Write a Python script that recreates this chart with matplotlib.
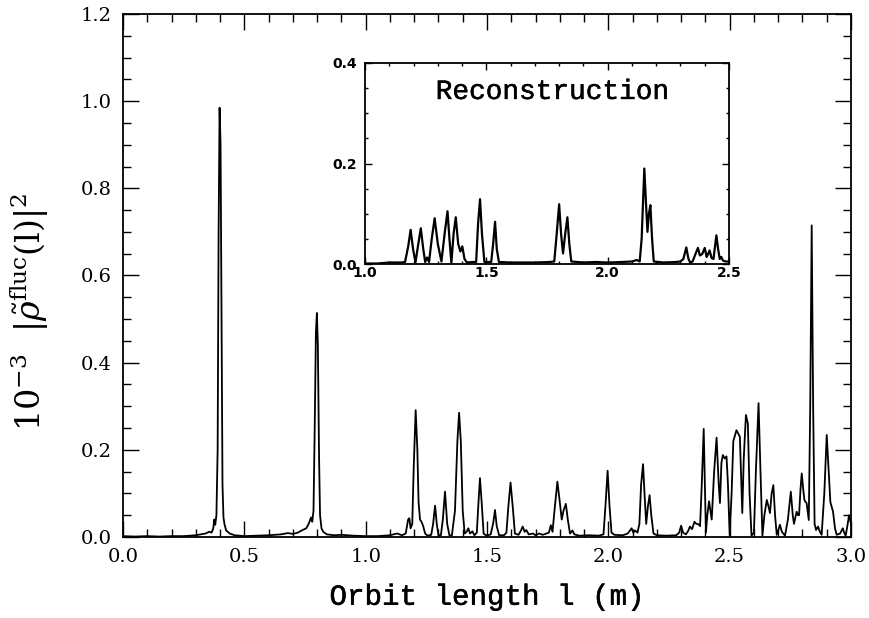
import matplotlib
matplotlib.use("Agg")
import matplotlib.pyplot as plt
import matplotlib.patheffects as pe
from matplotlib.ticker import MultipleLocator

# --- data ---
# main panel: orbit length l (m) vs 10^-3 |rho_fluc(l)|^2
orbit_l = [
    0.00, 0.05, 0.10, 0.15, 0.20, 0.25, 0.30, 0.32, 0.34, 0.355, 0.365, 0.372, 0.376, 0.380,
    0.385, 0.390, 0.394, 0.398, 0.402, 0.406, 0.410, 0.414, 0.418, 0.425, 0.44, 0.46, 0.50,
    0.55, 0.60, 0.65, 0.68, 0.70, 0.72, 0.74, 0.755, 0.765, 0.775, 0.780, 0.785, 0.790, 0.795,
    0.799, 0.803, 0.808, 0.812, 0.818, 0.825, 0.84, 0.87, 0.90, 0.95, 1.00, 1.05, 1.10, 1.13,
    1.15, 1.165, 1.175, 1.180, 1.185, 1.192, 1.198, 1.206, 1.213, 1.218, 1.224, 1.230, 1.237,
    1.245, 1.255, 1.270, 1.278, 1.286, 1.293, 1.300, 1.310, 1.318, 1.327, 1.336, 1.345, 1.355,
    1.368, 1.378, 1.385, 1.392, 1.400, 1.408, 1.416, 1.423, 1.430, 1.440, 1.448, 1.458, 1.465,
    1.471, 1.478, 1.486, 1.495, 1.505, 1.515, 1.525, 1.533, 1.540, 1.550, 1.570, 1.580, 1.588,
    1.597, 1.606, 1.615, 1.630, 1.640, 1.647, 1.655, 1.662, 1.672, 1.690, 1.700, 1.715, 1.730,
    1.745, 1.755, 1.763, 1.770, 1.778, 1.790, 1.800, 1.808, 1.815, 1.825, 1.833, 1.842, 1.852,
    1.860, 1.880, 1.920, 1.960, 1.980, 1.988, 1.997, 2.005, 2.013, 2.025, 2.060, 2.080, 2.096,
    2.103, 2.110, 2.120, 2.128, 2.135, 2.143, 2.150, 2.156, 2.163, 2.170, 2.177, 2.186, 2.200,
    2.240, 2.280, 2.292, 2.300, 2.308, 2.320, 2.330, 2.336, 2.345, 2.355, 2.363, 2.370, 2.378,
    2.385, 2.393, 2.398, 2.402, 2.408, 2.415, 2.421, 2.426, 2.436, 2.446, 2.455, 2.460, 2.466,
    2.472, 2.480, 2.487, 2.493, 2.500, 2.508, 2.515, 2.528, 2.542, 2.548, 2.552, 2.558, 2.567,
    2.575, 2.582, 2.590, 2.600, 2.608, 2.619, 2.627, 2.635, 2.643, 2.653, 2.660, 2.666, 2.673,
    2.680, 2.687, 2.694, 2.700, 2.707, 2.715, 2.728, 2.740, 2.752, 2.760, 2.765, 2.771, 2.776,
    2.782, 2.786, 2.792, 2.797, 2.803, 2.808, 2.813, 2.817, 2.821, 2.826, 2.832, 2.838, 2.844,
    2.850, 2.856, 2.864, 2.872, 2.879, 2.890, 2.900, 2.908, 2.915, 2.920, 2.926, 2.934, 2.941,
    2.955, 2.966, 2.972, 2.978, 2.985, 2.992, 3.000,
]
rho_fluc = [
    0.002, 0.001, 0.002, 0.001, 0.002, 0.002, 0.004, 0.006, 0.008, 0.012, 0.010, 0.020, 0.040, 0.028,
    0.050, 0.200, 0.700, 0.985, 0.900, 0.500, 0.120, 0.045, 0.030, 0.015, 0.008, 0.004, 0.002,
    0.003, 0.004, 0.006, 0.009, 0.007, 0.010, 0.016, 0.020, 0.030, 0.045, 0.035, 0.060, 0.250, 0.470,
    0.514, 0.440, 0.180, 0.050, 0.020, 0.012, 0.006, 0.004, 0.005, 0.003, 0.002, 0.002, 0.004, 0.008,
    0.004, 0.008, 0.040, 0.043, 0.020, 0.030, 0.160, 0.291, 0.200, 0.080, 0.040, 0.035, 0.025,
    0.008, 0.003, 0.005, 0.030, 0.072, 0.030, 0.004, 0.004, 0.040, 0.104, 0.030, 0.004, 0.003,
    0.060, 0.220, 0.285, 0.220, 0.060, 0.008, 0.012, 0.020, 0.008, 0.013, 0.004, 0.010, 0.080,
    0.135, 0.080, 0.008, 0.004, 0.004, 0.006, 0.030, 0.062, 0.025, 0.004, 0.004, 0.010, 0.070,
    0.125, 0.070, 0.008, 0.005, 0.015, 0.024, 0.012, 0.016, 0.006, 0.008, 0.004, 0.008, 0.005,
    0.008, 0.010, 0.027, 0.012, 0.060, 0.127, 0.080, 0.040, 0.060, 0.076, 0.040, 0.008, 0.015,
    0.006, 0.003, 0.004, 0.003, 0.006, 0.070, 0.152, 0.070, 0.010, 0.005, 0.004, 0.008, 0.020,
    0.010, 0.015, 0.010, 0.030, 0.120, 0.167, 0.090, 0.030, 0.070, 0.096, 0.050, 0.008, 0.004,
    0.003, 0.004, 0.010, 0.026, 0.010, 0.006, 0.015, 0.024, 0.018, 0.035, 0.030, 0.030, 0.025,
    0.120, 0.248, 0.120, 0.010, 0.050, 0.082, 0.060, 0.040, 0.150, 0.228, 0.120, 0.078, 0.170,
    0.188, 0.180, 0.185, 0.120, 0.004, 0.100, 0.220, 0.245, 0.230, 0.120, 0.055, 0.180, 0.280,
    0.260, 0.100, 0.003, 0.010, 0.150, 0.307, 0.150, 0.003, 0.050, 0.085, 0.070, 0.055, 0.100,
    0.119, 0.050, 0.005, 0.015, 0.028, 0.012, 0.003, 0.040, 0.104, 0.050, 0.030, 0.045, 0.058,
    0.050, 0.050, 0.110, 0.146, 0.110, 0.085, 0.080, 0.078, 0.060, 0.039, 0.300, 0.715, 0.300,
    0.030, 0.016, 0.024, 0.012, 0.005, 0.100, 0.234, 0.150, 0.080, 0.070, 0.058, 0.020, 0.005,
    0.008, 0.020, 0.010, 0.003, 0.025, 0.050, 0.030,
]

# inset: reconstruction
recon_l = [
    1.00, 1.05, 1.10, 1.15, 1.165, 1.178, 1.188, 1.198, 1.208, 1.218, 1.230, 1.240, 1.248,
    1.256, 1.264, 1.275, 1.287, 1.300, 1.315, 1.328, 1.340, 1.348, 1.356, 1.365, 1.374, 1.384,
    1.393, 1.401, 1.410, 1.420, 1.445, 1.458, 1.466, 1.474, 1.482, 1.492, 1.520, 1.528, 1.536,
    1.543, 1.552, 1.600, 1.700, 1.760, 1.780, 1.790, 1.800, 1.808, 1.816, 1.825, 1.834, 1.842,
    1.850, 1.900, 1.950, 2.000, 2.060, 2.100, 2.120, 2.132, 2.140, 2.151, 2.158, 2.164, 2.170,
    2.176, 2.183, 2.190, 2.230, 2.280, 2.300, 2.312, 2.324, 2.333, 2.340, 2.350, 2.362, 2.372,
    2.380, 2.390, 2.400, 2.408, 2.414, 2.420, 2.428, 2.436, 2.448, 2.455, 2.462, 2.468, 2.475,
    2.485, 2.498,
]
recon_v = [
    0.001, 0.001, 0.003, 0.003, 0.004, 0.035, 0.068, 0.030, 0.003, 0.035, 0.071, 0.030, 0.004,
    0.013, 0.004, 0.050, 0.091, 0.040, 0.005, 0.060, 0.105, 0.050, 0.002, 0.060, 0.093, 0.040,
    0.025, 0.035, 0.010, 0.003, 0.004, 0.004, 0.080, 0.129, 0.060, 0.004, 0.004, 0.040, 0.084,
    0.030, 0.004, 0.003, 0.003, 0.004, 0.005, 0.060, 0.119, 0.060, 0.021, 0.060, 0.093, 0.040,
    0.005, 0.003, 0.004, 0.003, 0.004, 0.005, 0.008, 0.005, 0.050, 0.190, 0.120, 0.064, 0.100,
    0.117, 0.050, 0.005, 0.003, 0.004, 0.005, 0.010, 0.033, 0.010, 0.003, 0.005, 0.020, 0.032,
    0.017, 0.020, 0.032, 0.014, 0.020, 0.027, 0.012, 0.010, 0.057, 0.030, 0.010, 0.014, 0.007,
    0.005, 0.005,
]

plt.rcParams['font.family'] = ['DejaVu Serif']
plt.rcParams['mathtext.fontset'] = 'dejavuserif'
MONO = ['Liberation Mono']
thick = [pe.withStroke(linewidth=0.35, foreground='black')]


def style_axes(ax, major_len, minor_len):
    ax.tick_params(which='both', direction='in', top=True, right=True, width=1.0)
    ax.tick_params(which='major', length=major_len)
    ax.tick_params(which='minor', length=minor_len)
    for s in ax.spines.values():
        s.set_linewidth(1.3)


fig = plt.figure(figsize=(8.69, 6.18), dpi=100)

# --- main panel ---
ax = fig.add_axes([123 / 869, 1 - 537 / 618, 728 / 869, 523 / 618])
ax.plot(orbit_l, rho_fluc, color='black', lw=1.3)
ax.set_xlim(0, 3.0)
ax.set_ylim(0, 1.2)
ax.xaxis.set_major_locator(MultipleLocator(0.5))
ax.xaxis.set_minor_locator(MultipleLocator(0.1))
ax.yaxis.set_major_locator(MultipleLocator(0.2))
ax.yaxis.set_minor_locator(MultipleLocator(0.05))
ax.xaxis.set_major_formatter(plt.FormatStrFormatter('%.1f'))
ax.yaxis.set_major_formatter(plt.FormatStrFormatter('%.1f'))
style_axes(ax, 11.5, 6)
ax.tick_params(labelsize=14, pad=8)
ax.set_xlabel('Orbit length l (m)', fontsize=21, family=MONO, labelpad=12,
              path_effects=thick)
ax.set_ylabel(r'$10^{-3}\ \ |\tilde{\rho}^{\mathrm{fluc}}(\mathrm{l})|^2$', fontsize=24)
ax.yaxis.set_label_coords(-0.099, 0.43)

# --- inset ---
axi = fig.add_axes([365 / 869, 1 - 264 / 618, 364 / 869, 201 / 618])
axi.plot(recon_l, recon_v, color='black', lw=1.6)
axi.set_xlim(1.0, 2.5)
axi.set_ylim(0, 0.4)
axi.xaxis.set_major_locator(MultipleLocator(0.5))
axi.xaxis.set_minor_locator(MultipleLocator(0.1))
axi.yaxis.set_major_locator(MultipleLocator(0.2))
axi.yaxis.set_minor_locator(MultipleLocator(0.05))
axi.xaxis.set_major_formatter(plt.FormatStrFormatter('%.1f'))
axi.yaxis.set_major_formatter(plt.FormatStrFormatter('%.1f'))
style_axes(axi, 5, 2.5)
axi.tick_params(axis='x', pad=1.5)
axi.tick_params(axis='y', pad=6)
for lab in axi.get_xticklabels() + axi.get_yticklabels():
    lab.set_fontfamily('DejaVu Sans')
    lab.set_fontweight('bold')
    lab.set_fontsize(10)
axi.text(0.514, 0.856, 'Reconstruction', transform=axi.transAxes,
         ha='center', va='center', fontsize=20, family=MONO, path_effects=thick)

fig.savefig('out.png', dpi=100)
